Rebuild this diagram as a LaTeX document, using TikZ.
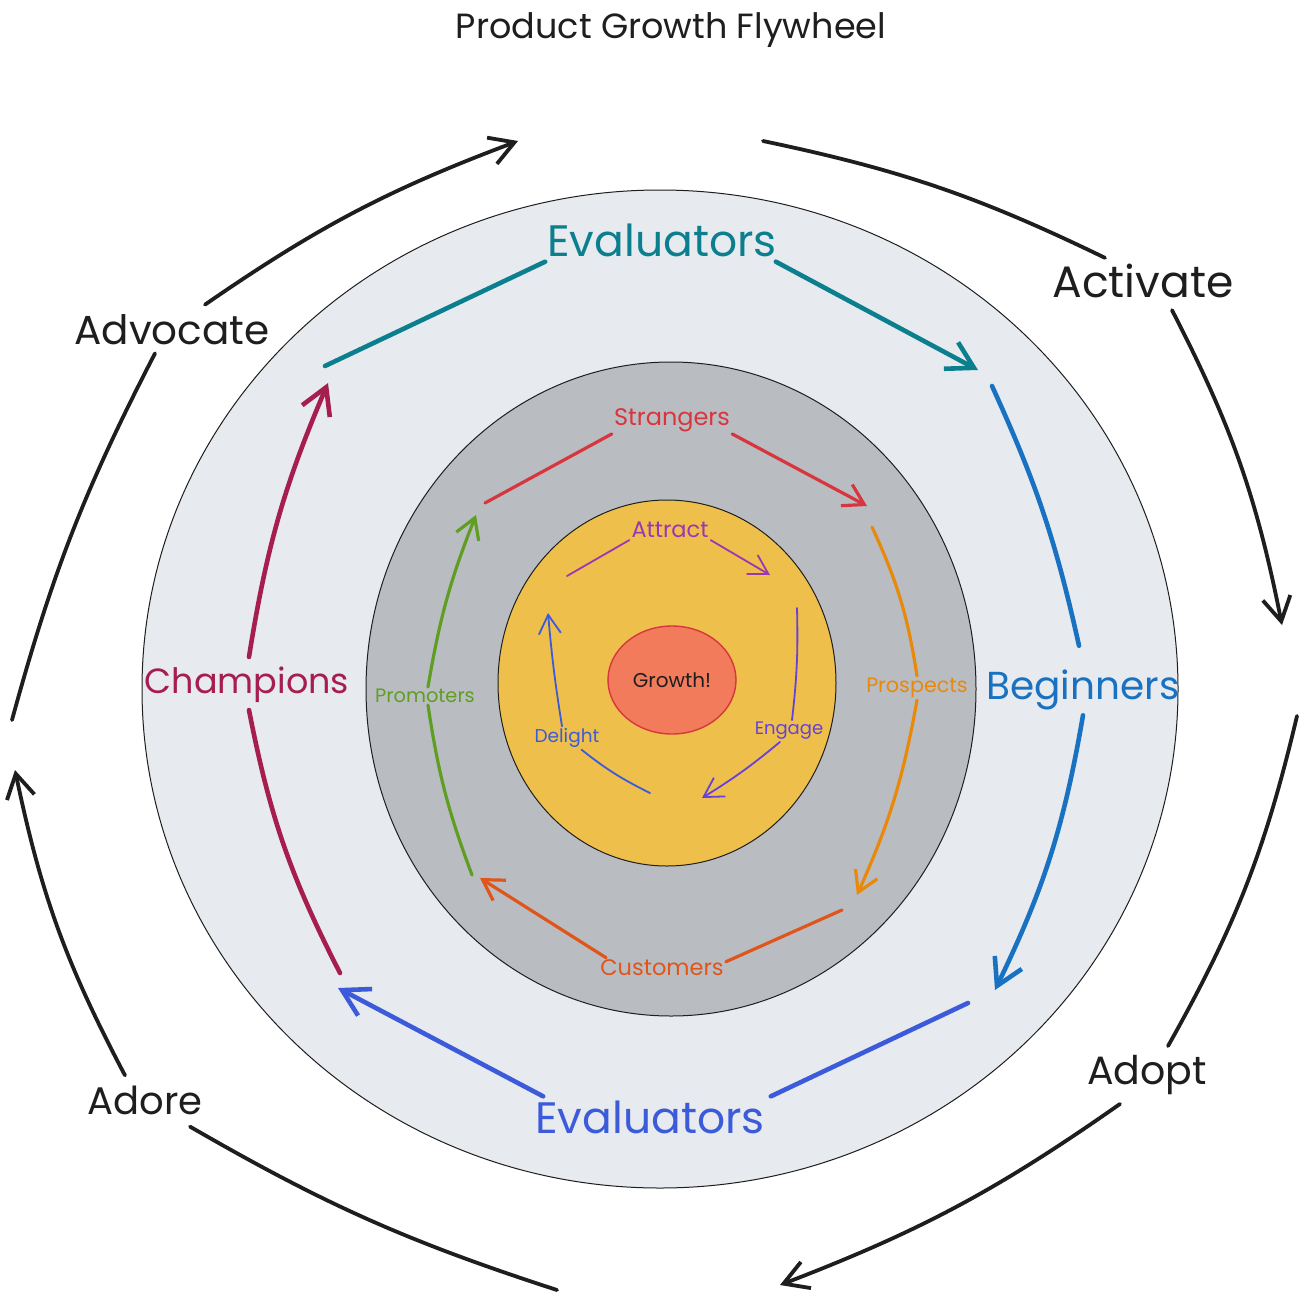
\documentclass[tikz,border=0pt]{standalone}
\usepackage{fontspec}
\setmainfont{Poppins}
\usepackage{tikz}
\usetikzlibrary{arrows.meta,calc}
\definecolor{flyink}{HTML}{1E1E1E}
\definecolor{flyteal}{HTML}{0C7F8F}
\definecolor{flyblue}{HTML}{1971C2}
\definecolor{flyindigo}{HTML}{3B5BDB}
\definecolor{flyberry}{HTML}{A61E4D}
\definecolor{flyred}{HTML}{D8363E}
\definecolor{flyorange}{HTML}{E8890C}
\definecolor{flyrust}{HTML}{E0551A}
\definecolor{flygreen}{HTML}{5F9E22}
\definecolor{flypurple}{HTML}{9C36B5}
\definecolor{flyviolet}{HTML}{6741D9}
\definecolor{flyouter}{HTML}{E7EAEE}
\definecolor{flymiddle}{HTML}{B9BDC2}
\definecolor{flyyellow}{HTML}{EEBF4A}
\definecolor{flycore}{HTML}{F27B5B}
\tikzset{%
  flyring/.style={draw=flyink,line width=1pt},
  flytext/.style={inner sep=2pt,font=\fontsize{#1}{#1}\selectfont},
  flyouterline/.style={draw=flyink,line width=3.8pt,line cap=round},
  flyouterarrow/.style={flyouterline,-{Straight Barb[length=24pt,width=28pt,line width=3.8pt]}},
  flyringline/.style={draw=#1,line width=4.6pt,line cap=round},
  flyringarrow/.style={flyringline=#1,-{Straight Barb[length=26pt,width=30pt,line width=4.6pt]}},
  flymidline/.style={draw=#1,line width=3.2pt,line cap=round},
  flymidarrow/.style={flymidline=#1,-{Straight Barb[length=20pt,width=24pt,line width=3.2pt]}},
  flyinline/.style={draw=#1,line width=1.8pt,line cap=round},
  flyinarrow/.style={flyinline=#1,-{Straight Barb[length=19pt,width=22pt,line width=1.8pt]}}
}
\begin{document}
\begin{tikzpicture}[x=1pt,y=-1pt]
    \useasboundingbox[fill=white] (0,0) rectangle (1310,1304);

    \filldraw[flyring,fill=flyouter] (660,689) ellipse [x radius=518,y radius=499];
    \filldraw[flyring,fill=flymiddle] (671,689) ellipse [x radius=305,y radius=327];
    \filldraw[flyring,fill=flyyellow] (667,683) ellipse [x radius=169,y radius=183];
    \filldraw[draw=flyred,line width=1.4pt,fill=flycore] (672,680) ellipse [x radius=64,y radius=54];

    \node[flytext=35,text=flyink] (title) at (671,30) {Product Growth Flywheel};

    \node[flytext=40.5,text=flyink] (advocate) at (172,330) {Advocate};
    \node[flytext=44,text=flyink] (activate) at (1143,281) {Activate};
    \node[flytext=39.5,text=flyink] (adopt) at (1147,1075) {Adopt};
    \node[flytext=38.5,text=flyink] (adore) at (145,1100) {Adore};

    \coordinate (topL) at (518,141);
    \coordinate (topR) at (763,141);
    \coordinate (rightU) at (1282,625);
    \coordinate (rightD) at (1297,716);
    \coordinate (botR) at (780,1285);
    \coordinate (botL) at (557,1290);
    \coordinate (leftD) at (15,770);
    \coordinate (leftU) at (12,720);

    \draw[flyouterarrow] ([xshift=33pt,yshift=8pt]advocate.north) to[bend left=7] (topL);
    \draw[flyouterline] (topR) to[bend left=7] ([xshift=-38pt,yshift=4pt]activate.north);
    \draw[flyouterarrow] ([xshift=29pt,yshift=-10pt]activate.south) to[bend left=8] (rightU);
    \draw[flyouterline] (rightD) to[bend left=8] ([xshift=21pt,yshift=7pt]adopt.north);
    \draw[flyouterarrow] ([xshift=-27pt,yshift=-7pt]adopt.south) to[bend left=7] (botR);
    \draw[flyouterline] (botL) to[bend left=6] ([xshift=45pt,yshift=-10pt]adore.south);
    \draw[flyouterarrow] ([xshift=-20pt,yshift=8pt]adore.north) to[bend left=8] (leftD);
    \draw[flyouterline] (leftU) to[bend left=6] ([xshift=-17pt,yshift=-6pt]advocate.south);

    \node[flytext=44,text=flyteal] (evaltop) at (662,240) {Evaluators};
    \node[flytext=39,text=flyblue] (beginners) at (1083,690) {Beginners};
    \node[flytext=44,text=flyindigo] (evalbot) at (650,1117) {Evaluators};
    \node[flytext=35,text=flyberry] (champions) at (247,685) {Champions};

    \coordinate (tealin) at (325,366);
    \coordinate (tealout) at (978,370);
    \coordinate (bluein) at (992,386);
    \coordinate (blueout) at (995,990);
    \coordinate (indigoin) at (968,1003);
    \coordinate (indigoout) at (338,988);
    \coordinate (berryin) at (340,973);
    \coordinate (berryout) at (328,383);

    \draw[flyringline=flyteal] (tealin) -- ([yshift=-3pt]evaltop.south west);
    \draw[flyringarrow=flyteal] ([xshift=-3pt,yshift=-3pt]evaltop.south east) -- (tealout);
    \draw[flyringline=flyblue] (bluein) to[bend left=6] ([xshift=-4pt,yshift=22pt]beginners.north);
    \draw[flyringarrow=flyblue] ([yshift=-3pt]beginners.south) to[bend left=8] (blueout);
    \draw[flyringline=flyindigo] (indigoin) -- ([xshift=4pt,yshift=2pt]evalbot.north east);
    \draw[flyringarrow=flyindigo] ([xshift=10pt,yshift=2pt]evalbot.north west) -- (indigoout);
    \draw[flyringline=flyberry] (berryin) to[bend left=8] ([xshift=2pt,yshift=-5pt]champions.south);
    \draw[flyringarrow=flyberry] ([xshift=2pt,yshift=8pt]champions.north) to[bend left=7] (berryout);

    \node[flytext=24,text=flyred] (strangers) at (672,420) {Strangers};
    \node[flytext=20.7,text=flyorange] (prospects) at (917,688) {Prospects};
    \node[flytext=22.5,text=flyrust] (customers) at (662,968) {Customers};
    \node[flytext=19.4,text=flygreen] (promoters) at (425,696) {Promoters};

    \coordinate (redin) at (485,503);
    \coordinate (redout) at (867,506);
    \coordinate (orangein) at (872,527);
    \coordinate (orangeout) at (857,895);
    \coordinate (rustin) at (842,910);
    \coordinate (rustout) at (480,878);
    \coordinate (greenin) at (472,875);
    \coordinate (greenout) at (476,515);

    \draw[flymidline=flyred] (redin) -- (strangers.south west);
    \draw[flymidarrow=flyred] (strangers.south east) -- (redout);
    \draw[flymidline=flyorange] (orangein) to[bend left=8] (prospects.north);
    \draw[flymidarrow=flyorange] (prospects.south) to[bend left=7] (orangeout);
    \draw[flymidline=flyrust] (rustin) -- ([yshift=-4pt]customers.north east);
    \draw[flymidarrow=flyrust] ([xshift=8pt]customers.north west) -- (rustout);
    \draw[flymidline=flygreen] (greenin) to[bend left=6] ([xshift=3pt]promoters.south);
    \draw[flymidarrow=flygreen] ([xshift=3pt]promoters.north) to[bend left=6] (greenout);

    \node[flytext=22.5,text=flypurple] (attract) at (670,530) {Attract};
    \node[flytext=18,text=flyviolet] (engage) at (789,731) {Engage};
    \node[flytext=18.5,text=flyindigo] (delight) at (567,738) {Delight};
    \node[flytext=20,text=flyink] (growth) at (672,680) {Growth!};

    \coordinate (purplein) at (567,576);
    \coordinate (purpleout) at (770,575);
    \coordinate (violetin) at (797,608);
    \coordinate (violetout) at (702,798);
    \coordinate (bluedin) at (650,793);
    \coordinate (bluedout) at (548,613);

    \draw[flyinline=flypurple] (purplein) -- (attract.south west);
    \draw[flyinarrow=flypurple] (attract.south east) -- (purpleout);
    \draw[flyinline=flyviolet] (violetin) to[bend left=4] ([xshift=3pt]engage.north);
    \draw[flyinarrow=flyviolet] ([xshift=-9pt]engage.south) to[bend left=4] (violetout);
    \draw[flyinline=flyindigo] (bluedin) to[bend left=6] ([xshift=-20pt]delight.south east);
    \draw[flyinarrow=flyindigo] ([xshift=-5pt]delight.north) to[bend left=2] (bluedout);
  \end{tikzpicture}
\end{document}
